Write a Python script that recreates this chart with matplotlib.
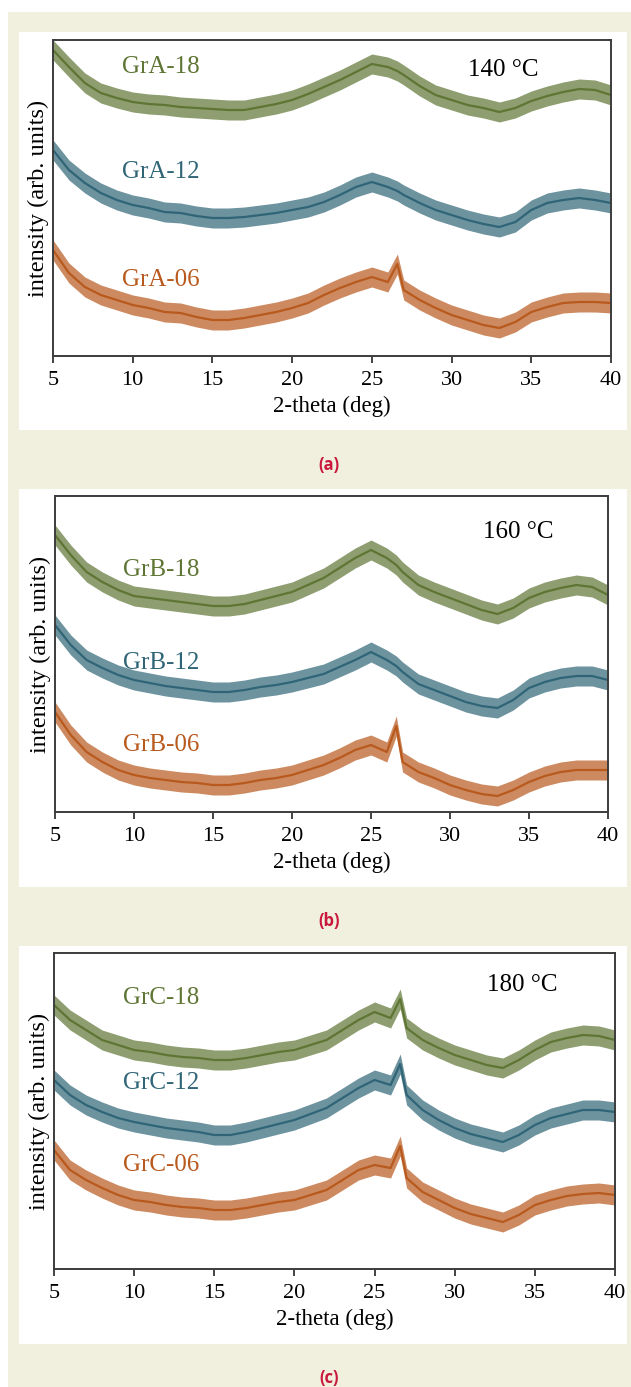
import matplotlib
matplotlib.use("Agg")
import matplotlib.pyplot as plt
from matplotlib.patches import Rectangle

# 2-theta positions (deg); 26.6 is the sharp graphite reflection
two_theta = [5, 6, 7, 8, 9, 10, 11, 12, 13, 14, 15, 16, 17, 18, 19, 20, 21, 22, 23,
             24, 25, 26, 26.6, 27, 28, 29, 30, 31, 32, 33, 34, 35, 36, 37, 38, 39, 40]

# intensity (arb. units, offset stacked)
gra_18 = [306, 289, 273, 263, 258, 254, 252, 251, 249, 248, 247, 246, 246, 249, 252, 256, 262, 269, 276,
          284, 292, 289, 285, 281, 270, 261, 256, 251, 248, 244, 248, 255, 260, 264, 267, 266, 261]
gra_12 = [206, 186, 173, 163, 156, 151, 148, 144, 143, 140, 138, 138, 139, 141, 143, 146, 149, 154, 161,
          169, 174, 169, 165, 161, 153, 146, 141, 136, 132, 129, 134, 146, 153, 156, 158, 156, 153]
gra_06 = [106, 83, 69, 61, 56, 51, 48, 44, 43, 39, 36, 36, 38, 41, 44, 48, 53, 61, 68,
          74, 79, 74, 92, 66, 56, 48, 41, 36, 31, 28, 34, 44, 49, 53, 54, 54, 53]

grb_18 = [277, 257, 240, 230, 222, 216, 214, 212, 210, 208, 206, 206, 208, 212, 216, 220, 227, 234, 244,
          254, 262, 254, 247, 240, 227, 220, 214, 208, 202, 198, 204, 214, 220, 224, 227, 225, 217]
grb_12 = [187, 167, 152, 144, 137, 132, 129, 126, 124, 122, 120, 120, 122, 125, 127, 130, 134, 138, 145,
          152, 160, 152, 146, 140, 128, 122, 116, 110, 106, 104, 112, 124, 130, 134, 136, 136, 132]
grb_06 = [100, 77, 60, 50, 42, 37, 34, 32, 30, 29, 27, 27, 29, 32, 34, 37, 42, 47, 54,
          62, 67, 60, 86, 50, 40, 34, 27, 22, 18, 16, 22, 30, 36, 40, 42, 42, 42]

grc_18 = [264, 249, 239, 229, 224, 219, 217, 214, 212, 211, 209, 209, 211, 214, 217, 219, 224, 229, 239,
          249, 257, 251, 270, 241, 229, 221, 214, 209, 204, 201, 209, 219, 227, 231, 234, 233, 229]
grc_12 = [189, 174, 164, 157, 151, 147, 144, 141, 139, 137, 134, 134, 137, 141, 145, 149, 155, 161, 171,
          181, 189, 184, 205, 174, 159, 149, 141, 135, 131, 127, 134, 144, 151, 155, 159, 159, 157]
grc_06 = [119, 99, 89, 81, 74, 69, 67, 64, 62, 61, 59, 59, 61, 64, 67, 69, 74, 79, 89,
          99, 104, 101, 123, 91, 77, 69, 61, 55, 51, 47, 54, 64, 69, 73, 75, 76, 74]

noise_half = 10  # approx. half-width of the noise band (same units)

sample_names = [["GrA-18", "GrA-12", "GrA-06"],
                ["GrB-18", "GrB-12", "GrB-06"],
                ["GrC-18", "GrC-12", "GrC-06"]]
temperatures = ["140 \u00b0C", "160 \u00b0C", "180 \u00b0C"]
captions = ["(a)", "(b)", "(c)"]
series = [[gra_18, gra_12, gra_06], [grb_18, grb_12, grb_06], [grc_18, grc_12, grc_06]]

colors = ["#5e7534", "#2f6577", "#b8591d"]

W, H = 631, 1387
fig = plt.figure(figsize=(W / 100, H / 100), dpi=100)
fig.patch.set_facecolor("white")

# background axes: beige page and white panels (pixel coordinates, y down)
bg = fig.add_axes([0, 0, 1, 1], zorder=-10)
bg.set_xlim(0, W)
bg.set_ylim(H, 0)
bg.axis("off")
bg.add_patch(Rectangle((8, 12), W - 8, H - 12, facecolor="#f1efde", edgecolor="none"))
for top in [32, 489, 946]:
    bg.add_patch(Rectangle((19, top), 608, 398, facecolor="white", edgecolor="none"))

# axes boxes in pixels: left, right, top, bottom
boxes = [(53, 611, 40, 356), (55, 608, 496, 812), (54, 615, 953, 1269)]
caption_y = [465, 921, 1378]
label_y = [[289, 184, 76], [242, 149, 67], [271, 186, 104]]
temp_xy = [(31.0, 286), (32.1, 280), (32.0, 284)]

serif = "Liberation Serif"

for i, (l, r, t, b) in enumerate(boxes):
    ax = fig.add_axes([l / W, 1 - b / H, (r - l) / W, (b - t) / H], zorder=1)
    ax.set_xlim(5, 40)
    ax.set_ylim(0, b - t)
    for k, (vals, col) in enumerate(zip(series[i], colors)):
        lo = [v - noise_half for v in vals]
        hi = [v + noise_half for v in vals]
        ax.fill_between(two_theta, lo, hi, color=col, alpha=0.7, linewidth=0)
        ax.plot(two_theta, vals, color=col, linewidth=1.6)
        ax.text(9.3, label_y[i][k], sample_names[i][k], color=col, fontsize=18,
                family=serif, va="center", ha="left")
    ax.text(temp_xy[i][0], temp_xy[i][1], temperatures[i], color="black", fontsize=18,
            family=serif, va="center", ha="left")

    ax.set_xticks(range(5, 41, 5))
    ax.set_yticks([])
    ax.tick_params(axis="x", direction="out", length=5, width=1.2, color="#222222",
                   labelsize=16, pad=6)
    for lab in ax.get_xticklabels():
        lab.set_family(serif)
    for sp in ax.spines.values():
        sp.set_color("#3c3c3c")
        sp.set_linewidth(1.4)
    ax.set_xlabel("2-theta (deg)", fontsize=16.5, family=serif, labelpad=4)
    ax.set_ylabel("intensity (arb. units)", fontsize=17.5, family=serif, labelpad=3)

    fig.text(329 / W, 1 - caption_y[i] / H, captions[i], color="#c8193c", fontsize=12,
             family="Open Sans", fontweight="bold", ha="center", va="center")

fig.savefig("out.png", dpi=100)
